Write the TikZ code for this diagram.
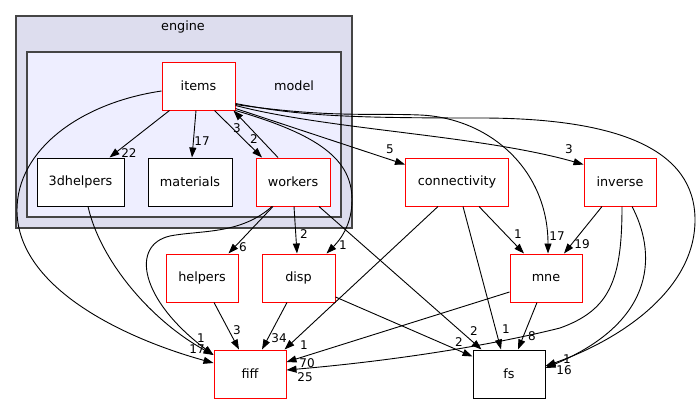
\documentclass[tikz,border=0pt]{standalone}
\usepackage{fontspec}
\setmainfont{DejaVu Sans}
\usetikzlibrary{arrows.meta}

\begin{document}
\begin{tikzpicture}[x=1pt, y=-1pt, >={Triangle[length=10pt, width=7pt]},
    dep/.style={->, line width=0.9pt},
    lbl/.style={font=\fontsize{12}{12}\selectfont, inner sep=0pt},
    dir/.style={draw=red, fill=white, line width=1pt, minimum height=48pt,
        inner sep=0pt, font=\fontsize{12.8}{13}\selectfont},
    dirb/.style={dir, draw=black},
    clu/.style={draw=black!73, line width=1.2pt}]

    \useasboundingbox (0,0) rectangle (700,404);

    % Cartelle contenitori
    \draw[clu, fill={rgb,255:red,221;green,221;blue,238}] (16,16) rectangle (352,228);
    \node[lbl, font=\fontsize{12.8}{13}\selectfont] (engine) at (183,27) {engine};
    \draw[clu, fill={rgb,255:red,238;green,238;blue,255}] (27,52) rectangle (341,217);
    \node[lbl, font=\fontsize{12.8}{13}\selectfont] (model) at (294,86) {model};

    % Nodi
    \node[dir, minimum width=73pt] (items) at (198.5,86) {items};
    \node[dirb, minimum width=87pt] (helpers3d) at (80.5,182) {3dhelpers};
    \node[dirb, minimum width=84pt] (materials) at (190,182) {materials};
    \node[dir, minimum width=74pt] (workers) at (293,182) {workers};
    \node[dir, minimum width=103pt] (connectivity) at (457,182) {connectivity};
    \node[dir, minimum width=72pt] (inverse) at (620,182) {inverse};
    \node[dir, minimum width=72pt] (helpers) at (202,278) {helpers};
    \node[dir, minimum width=73pt] (disp) at (298.5,278) {disp};
    \node[dir, minimum width=72pt] (mne) at (546,278) {mne};
    \node[dir, minimum width=72pt] (fiff) at (250,374) {fiff};
    \node[dirb, minimum width=72pt] (fs) at (509,374) {fs};

    % --- Dipendenze ---
    % Da items
    \draw[dep] ([xshift=-29pt]items.south) -- ([xshift=29pt]helpers3d.north)
        node[lbl] at (129,153) {22};
    \draw[dep] ([xshift=-2.5pt]items.south) -- ([xshift=2pt]materials.north)
        node[lbl] at (202,141) {17};
    \draw[dep] ([xshift=16pt]items.south) -- ([xshift=-31pt]workers.north)
        node[lbl] at (254,139) {2};
    \draw[dep] ([yshift=2pt]items.south east) -- ([yshift=-7pt]connectivity.north west)
        node[lbl] at (390,149) {5};
    \draw[dep] ([yshift=5pt]items.south east) .. controls (330,130) and (480,135) ..
        ([yshift=-7pt]inverse.north west)
        node[lbl] at (569,149) {3};
    \draw[dep] ([yshift=6pt]items.south east) .. controls (330,118) and (370,113) .. (420,115)
        .. controls (490,118) and (548,170) .. ([xshift=2pt]mne.north)
        node[lbl] at (557,236) {17};
    \draw[dep] ([yshift=7pt]items.south east) .. controls (300,116) and (350,118) .. (480,118)
        .. controls (620,118) and (695,150) .. (695,220)
        .. controls (695,290) and (620,340) .. ([yshift=8pt]fs.east)
        node[lbl] at (564,370) {16};
    \draw[dep] (items.south east) .. controls (320,135) and (352,160) .. (352,200)
        .. controls (352,225) and (340,240) .. ([xshift=-9pt]disp.north east)
        node[lbl] at (343,245) {1};
    \draw[dep] ([yshift=-5pt]items.west) .. controls (80,103) and (17,150) .. (17,210)
        .. controls (17,290) and (130,340) .. ([yshift=11pt]fiff.west)
        node[lbl] at (197,349) {17};

    % Da workers
    \draw[dep] ([xshift=-15pt]workers.north) -- ([xshift=-2pt]items.south east)
        node[lbl] at (237,128) {3};
    \draw[dep] ([xshift=-20pt]workers.south) -- ([xshift=-10pt]helpers.north east)
        node[lbl] at (243,247) {6};
    \draw[dep] ([xshift=1pt]workers.south) -- ([xshift=-1.5pt]disp.north)
        node[lbl] at (304,234) {2};
    \draw[dep] ([xshift=26pt]workers.south) -- ([xshift=9pt]fs.north west)
        node[lbl] at (474,331) {2};
    \draw[dep] ([xshift=-21pt]workers.south) .. controls (240,235) and (200,230) .. (170,236)
        .. controls (130,245) and (140,300) .. ([yshift=19pt]fiff.west)
        node[lbl] at (201,338) {1};

    % Da 3dhelpers
    \draw[dep] ([xshift=7.5pt]helpers3d.south) .. controls (100,260) and (150,320) ..
        ([yshift=19pt]fiff.west);

    % Da helpers e disp
    \draw[dep] ([xshift=12pt]helpers.south) -- ([xshift=-11pt]fiff.north)
        node[lbl] at (237,330) {3};
    \draw[dep] ([xshift=-11.5pt]disp.south) -- ([xshift=12pt]fiff.north)
        node[lbl] at (279,338) {34};
    \draw[dep] ([yshift=-19pt]disp.east) -- ([yshift=-7pt]fs.north west)
        node[lbl] at (459,342) {2};

    % Da connectivity
    \draw[dep] ([xshift=-19pt]connectivity.south) -- ([xshift=-2pt]fiff.north east)
        node[lbl] at (304,345) {1};
    \draw[dep] ([xshift=6pt]connectivity.south) -- ([xshift=-8pt]fs.north)
        node[lbl] at (506,329) {1};
    \draw[dep] ([xshift=22pt]connectivity.south) -- ([xshift=-22pt]mne.north)
        node[lbl] at (518,234) {1};

    % Da mne
    \draw[dep] ([yshift=-14pt]mne.west) -- ([yshift=12pt]fiff.east)
        node[lbl] at (307,363) {70};
    \draw[dep] ([xshift=-9pt]mne.south) -- ([xshift=9pt]fs.north)
        node[lbl] at (532,336) {8};

    % Da inverse
    \draw[dep] ([xshift=-18pt]inverse.south) -- ([xshift=18pt]mne.north)
        node[lbl] at (582,244) {19};
    \draw[dep] ([xshift=2pt]inverse.south) .. controls (622,280) and (610,310) .. (560,328)
        .. controls (480,348) and (380,362) .. ([yshift=4pt]fiff.east)
        node[lbl] at (305,377) {25};
    \draw[dep] ([xshift=12pt]inverse.south) .. controls (655,250) and (660,320) ..
        ([yshift=6pt]fs.east)
        node[lbl] at (567,359) {1};

\end{tikzpicture}
\end{document}
